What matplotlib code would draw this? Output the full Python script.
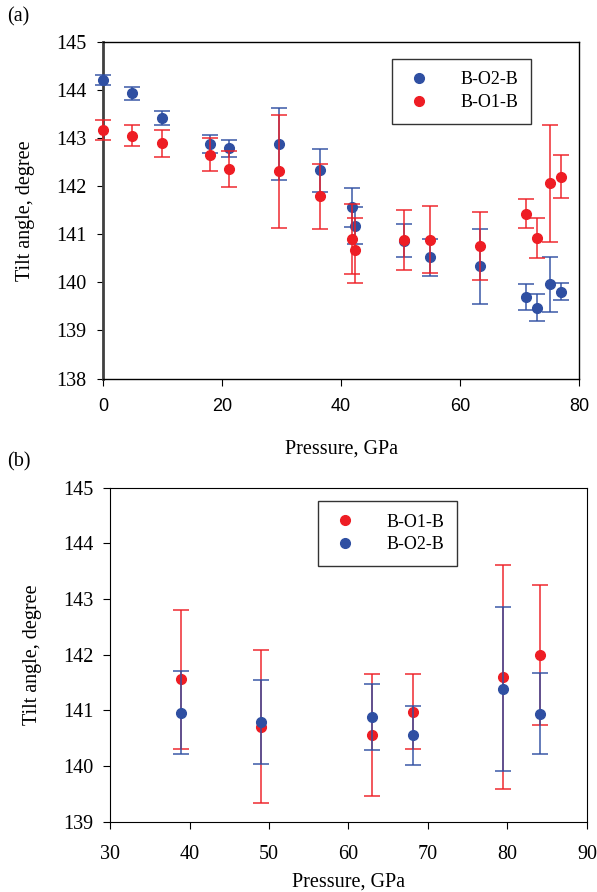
import matplotlib
matplotlib.use("Agg")
import matplotlib.pyplot as plt

# panel (a)
p_a = [0, 4.8, 9.9, 17.9, 21.2, 29.6, 36.4, 41.8, 42.3, 50.6, 54.9, 63.4, 71.1, 73.0, 75.1, 76.9]
o2_a = [144.21, 143.93, 143.42, 142.88, 142.79, 142.88, 142.33, 141.56, 141.18,
        140.87, 140.52, 140.34, 139.70, 139.47, 139.96, 139.81]
o2_a_err = [0.10, 0.13, 0.15, 0.19, 0.18, 0.74, 0.45, 0.41, 0.38,
            0.35, 0.38, 0.78, 0.27, 0.28, 0.57, 0.18]
o1_a = [143.17, 143.05, 142.89, 142.66, 142.36, 142.31, 141.79, 140.90, 140.67,
        140.88, 140.89, 140.75, 141.43, 140.93, 142.06, 142.20]
o1_a_err = [0.20, 0.22, 0.28, 0.35, 0.38, 1.18, 0.67, 0.73, 0.68,
            0.63, 0.69, 0.71, 0.30, 0.42, 1.21, 0.45]

# panel (b)
p_b = [38.9, 48.95, 63.0, 68.1, 79.4, 84.1]
o1_b = [141.56, 140.71, 140.56, 140.98, 141.60, 141.99]
o1_b_err = [1.25, 1.38, 1.09, 0.67, 2.02, 1.26]
o2_b = [140.96, 140.79, 140.88, 140.55, 141.38, 140.94]
o2_b_err = [0.74, 0.76, 0.59, 0.53, 1.47, 0.73]

blue = "#2f4fa2"
red = "#ee1d24"
serif = "Liberation Serif"
fs = 14.5

fig = plt.figure(figsize=(5.97, 8.92), dpi=100)

def errplot(ax, x, y, e, c, label, z):
    ax.errorbar(x, y, yerr=e, fmt="none", ecolor=c, elinewidth=1.3,
                capsize=5.5, capthick=1.3, alpha=0.8, clip_on=False, zorder=z)
    ax.plot(x, y, "o", color=c, markersize=7, label=label, clip_on=False, zorder=z + 0.5)

def legend(ax, anchor):
    leg = ax.legend(loc="upper left", bbox_to_anchor=anchor, frameon=True,
                    fancybox=False, edgecolor="black", prop={"family": serif, "size": 13},
                    handlelength=1.6, handletextpad=1.5, borderpad=0.7, labelspacing=0.3,
                    borderaxespad=0)
    leg.get_frame().set_linewidth(1.0)
    return leg

ax1 = fig.add_axes([0.1725, 0.5756, 0.7975, 0.3773])
errplot(ax1, p_a, o2_a, o2_a_err, blue, "B-O2-B", 3)
errplot(ax1, p_a, o1_a, o1_a_err, red, "B-O1-B", 4)
ax1.set_xlim(0, 80)
ax1.set_ylim(138, 145)
ax1.set_xticks([0, 20, 40, 60, 80])
ax1.set_xticklabels(["0", "20", "40", "60", "80"], fontfamily="Liberation Sans", fontsize=13)
ax1.set_yticks(range(138, 146))
ax1.set_yticklabels([str(v) for v in range(138, 146)], fontfamily=serif, fontsize=fs)
ax1.tick_params(axis="x", direction="out", length=5, pad=9)
ax1.tick_params(axis="y", direction="out", length=4, pad=8)
for s in ax1.spines.values():
    s.set_linewidth(1.0)
ax1.spines["left"].set_linewidth(2.0)
ax1.spines["left"].set_color("#404040")
ax1.set_xlabel("Pressure, GPa", family=serif, fontsize=fs, labelpad=18)
ax1.set_ylabel("Tilt angle, degree", family=serif, fontsize=fs, labelpad=15)
legend(ax1, (0.606, 0.95))
fig.text(0.012, 0.981, "(a)", family=serif, fontsize=fs, va="center")

ax2 = fig.add_axes([0.1843, 0.0788, 0.7989, 0.3744])
errplot(ax2, p_b, o1_b, o1_b_err, red, "B-O1-B", 3)
errplot(ax2, p_b, o2_b, o2_b_err, blue, "B-O2-B", 4)
ax2.set_xlim(30, 90)
ax2.set_ylim(139, 145)
ax2.set_xticks(range(30, 91, 10))
ax2.set_xticklabels([str(v) for v in range(30, 91, 10)], fontfamily=serif, fontsize=fs)
ax2.set_yticks(range(139, 146))
ax2.set_yticklabels([str(v) for v in range(139, 146)], fontfamily=serif, fontsize=fs)
ax2.tick_params(axis="x", direction="out", length=5, pad=12)
ax2.tick_params(axis="y", direction="out", length=5, pad=7)
ax2.set_xlabel("Pressure, GPa", family=serif, fontsize=fs, labelpad=6)
ax2.set_ylabel("Tilt angle, degree", family=serif, fontsize=fs, labelpad=15)
legend(ax2, (0.436, 0.96))
fig.text(0.012, 0.482, "(b)", family=serif, fontsize=fs, va="center")

fig.savefig("out.png", dpi=100)
